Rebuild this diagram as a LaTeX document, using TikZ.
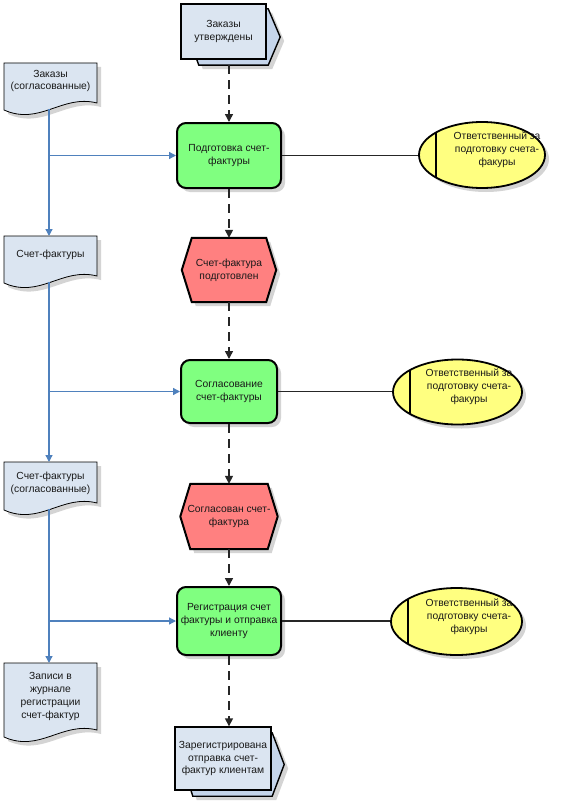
\documentclass[tikz,border=0pt]{standalone}
\usepackage{fontspec}
\setmainfont{Liberation Sans}
\usetikzlibrary{arrows.meta,shapes.geometric,backgrounds,shadows}
\definecolor{funcfill}{RGB}{128,255,128}
\definecolor{evtfill}{RGB}{255,128,128}
\definecolor{orgfill}{RGB}{255,255,128}
\definecolor{docfill}{RGB}{219,229,241}
\definecolor{backfill}{RGB}{197,213,235}
\definecolor{conblue}{RGB}{79,129,189}
\definecolor{shadowc}{RGB}{212,212,212}
\newcommand{\docpath}[4]{(#1,#2) -- (#3,#2) -- (#3,#4-7) .. controls (#3-35,#4-16) and (#1+36,#4+16) .. (#1,#4) -- cycle}
\begin{document}
\begin{tikzpicture}[x=1pt,y=-1pt,
  txt/.style={font=\fontsize{10.3}{12.8}\selectfont, align=center, inner sep=0pt, text=black!90},
  shad/.style={drop shadow={shadow xshift=4pt, shadow yshift=-4pt, fill=shadowc, opacity=1}},
  func/.style={txt, shape=rectangle, draw=black, line width=2pt, fill=funcfill, rounded corners=9pt, shad},
  evtshape/.style={draw=black, line width=2pt, fill=evtfill, line join=miter, shad},
  backshape/.style={draw=black, line width=1.4pt, fill=backfill, line join=miter, shad},
  frontbox/.style={txt, shape=rectangle, draw=black, line width=1.4pt, fill=docfill},
  docshape/.style={draw=black, line width=0.8pt, fill=docfill, shad},
  org/.style={shape=ellipse, draw=black, line width=1.8pt, fill=orgfill, inner sep=0pt, shad,
    path picture={\draw[line width=2pt] ([xshift=17pt]path picture bounding box.north west) -- ([xshift=17pt]path picture bounding box.south west);}},
  conn/.style={draw=black!85, line width=1.3pt},
  dconn/.style={conn, line width=1.5pt, dash pattern=on 9pt off 6pt, -{Triangle[length=8pt,width=8pt]}},
  bconn/.style={draw=conblue, line width=1.3pt, -{Triangle[length=7pt,width=7pt,fill=conblue]}}
]
\useasboundingbox (0,0) rectangle (569,808);

% ---- process path top ----
\node[txt, minimum width=91, minimum height=56] (pp1back) at (234.5,37) {};
\node[frontbox, minimum width=85, minimum height=55] (pp1) at (223.5,31.5) {Заказы\\утверждены};

% ---- functions ----
\node[func, minimum width=104, minimum height=65] (f1) at (229,155.5) {Подготовка счет-\\фактуры};
\node[func, minimum width=96, minimum height=63] (f2) at (229,391.5) {Согласование\\счет-фактуры};
\node[func, minimum width=104, minimum height=68] (f3) at (229,621) {Регистрация счет\\фактуры и отправка\\клиенту};

% ---- events ----
\node[txt, minimum width=94, minimum height=64] (h1) at (229,270) {Счет-фактура\\подготовлен};
\node[txt, minimum width=97, minimum height=65] (h2) at (229,516.5) {Согласован счет-\\фактура};

% ---- process path bottom ----
\node[txt, minimum width=101, minimum height=63] (pp2back) at (233.5,764.5) {};
\node[frontbox, minimum width=96, minimum height=63] (pp2) at (223,758.5) {Зарегистрирована\\отправка счет-\\фактур клиентам};

% ---- org units ----
\node[org, minimum width=126, minimum height=66] (e1) at (482,155) {};
\node[txt] (e1t) at (497,150) {Ответственный за\\подготовку счета-\\факуры};
\node[org, minimum width=129, minimum height=65] (e2) at (457.5,392) {};
\node[txt] (e2t) at (469,387) {Ответственный за\\подготовку счета-\\факуры};
\node[org, minimum width=131, minimum height=67] (e3) at (456.5,621.5) {};
\node[txt] (e3t) at (469,617) {Ответственный за\\подготовку счета-\\факуры};

% ---- documents (text) ----
\node[txt] (d1) at (50.5,81) {Заказы\\(согласованные)};
\node[txt] (d2) at (50.5,255) {Счет-фактуры};
\node[txt] (d3) at (50.5,483.5) {Счет-фактуры\\(согласованные)};
\node[txt] (d4) at (50.5,696.5) {Записи в\\журнале\\регистрации\\счет-фактур};
\coordinate (d1b) at (49,109);
\coordinate (d2t) at (49,236);
\coordinate (d2b) at (49,282);
\coordinate (d3t) at (49,462);
\coordinate (d3b) at (49,509);
\coordinate (d4t) at (49,663);

\begin{pgfonlayer}{background}
  \fill[white] (0,0) rectangle (569,808);
  \path[backshape] ([xshift=10pt]pp1back.north west) -- ([xshift=-12pt]pp1back.north east) -- (pp1back.east) -- ([xshift=-12pt]pp1back.south east) -- ([xshift=10pt]pp1back.south west) -- (pp1back.west) -- cycle;
  \path[backshape] ([xshift=10pt]pp2back.north west) -- ([xshift=-12pt]pp2back.north east) -- (pp2back.east) -- ([xshift=-12pt]pp2back.south east) -- ([xshift=10pt]pp2back.south west) -- (pp2back.west) -- cycle;
  \path[evtshape] ([xshift=10pt]h1.north west) -- ([xshift=-10pt]h1.north east) -- (h1.east) -- ([xshift=-10pt]h1.south east) -- ([xshift=10pt]h1.south west) -- (h1.west) -- cycle;
  \path[evtshape] ([xshift=10pt]h2.north west) -- ([xshift=-10pt]h2.north east) -- (h2.east) -- ([xshift=-10pt]h2.south east) -- ([xshift=10pt]h2.south west) -- (h2.west) -- cycle;
  \path[docshape] \docpath{4}{63}{97}{110};
  \path[docshape] \docpath{4}{236}{97}{283};
  \path[docshape] \docpath{4}{462}{97}{510};
  \path[docshape] \docpath{4}{663}{97}{737};
\end{pgfonlayer}

% ---- dashed control flow ----
\draw[dconn] (pp1back.south -| f1.north) -- (f1.north);
\draw[dconn] (f1.south) -- (f1.south |- h1.north);
\draw[dconn] (h1.south -| f2.north) -- (f2.north);
\draw[dconn] (f2.south) -- (f2.south |- h2.north);
\draw[dconn] (h2.south -| f3.north) -- (f3.north);
\draw[dconn] (f3.south) -- (f3.south |- pp2.north);

% ---- org connections ----
\draw[conn] (f1.east) -- (f1.east -| e1.west);
\draw[conn] (f2.east) -- (f2.east -| e2.west);
\draw[conn] (f3.east) -- (f3.east -| e3.west);

% ---- document flow ----
\draw[bconn] (d1b) -- (d2t);
\draw[bconn] (d1b |- f1.west) -- (f1.west);
\draw[bconn] (d2b) -- (d3t);
\draw[bconn] (d2b |- f2.west) -- (f2.west);
\draw[bconn] (d3b) -- (d4t);
\draw[bconn] (d3b |- f3.west) -- (f3.west);
\end{tikzpicture}
\end{document}
